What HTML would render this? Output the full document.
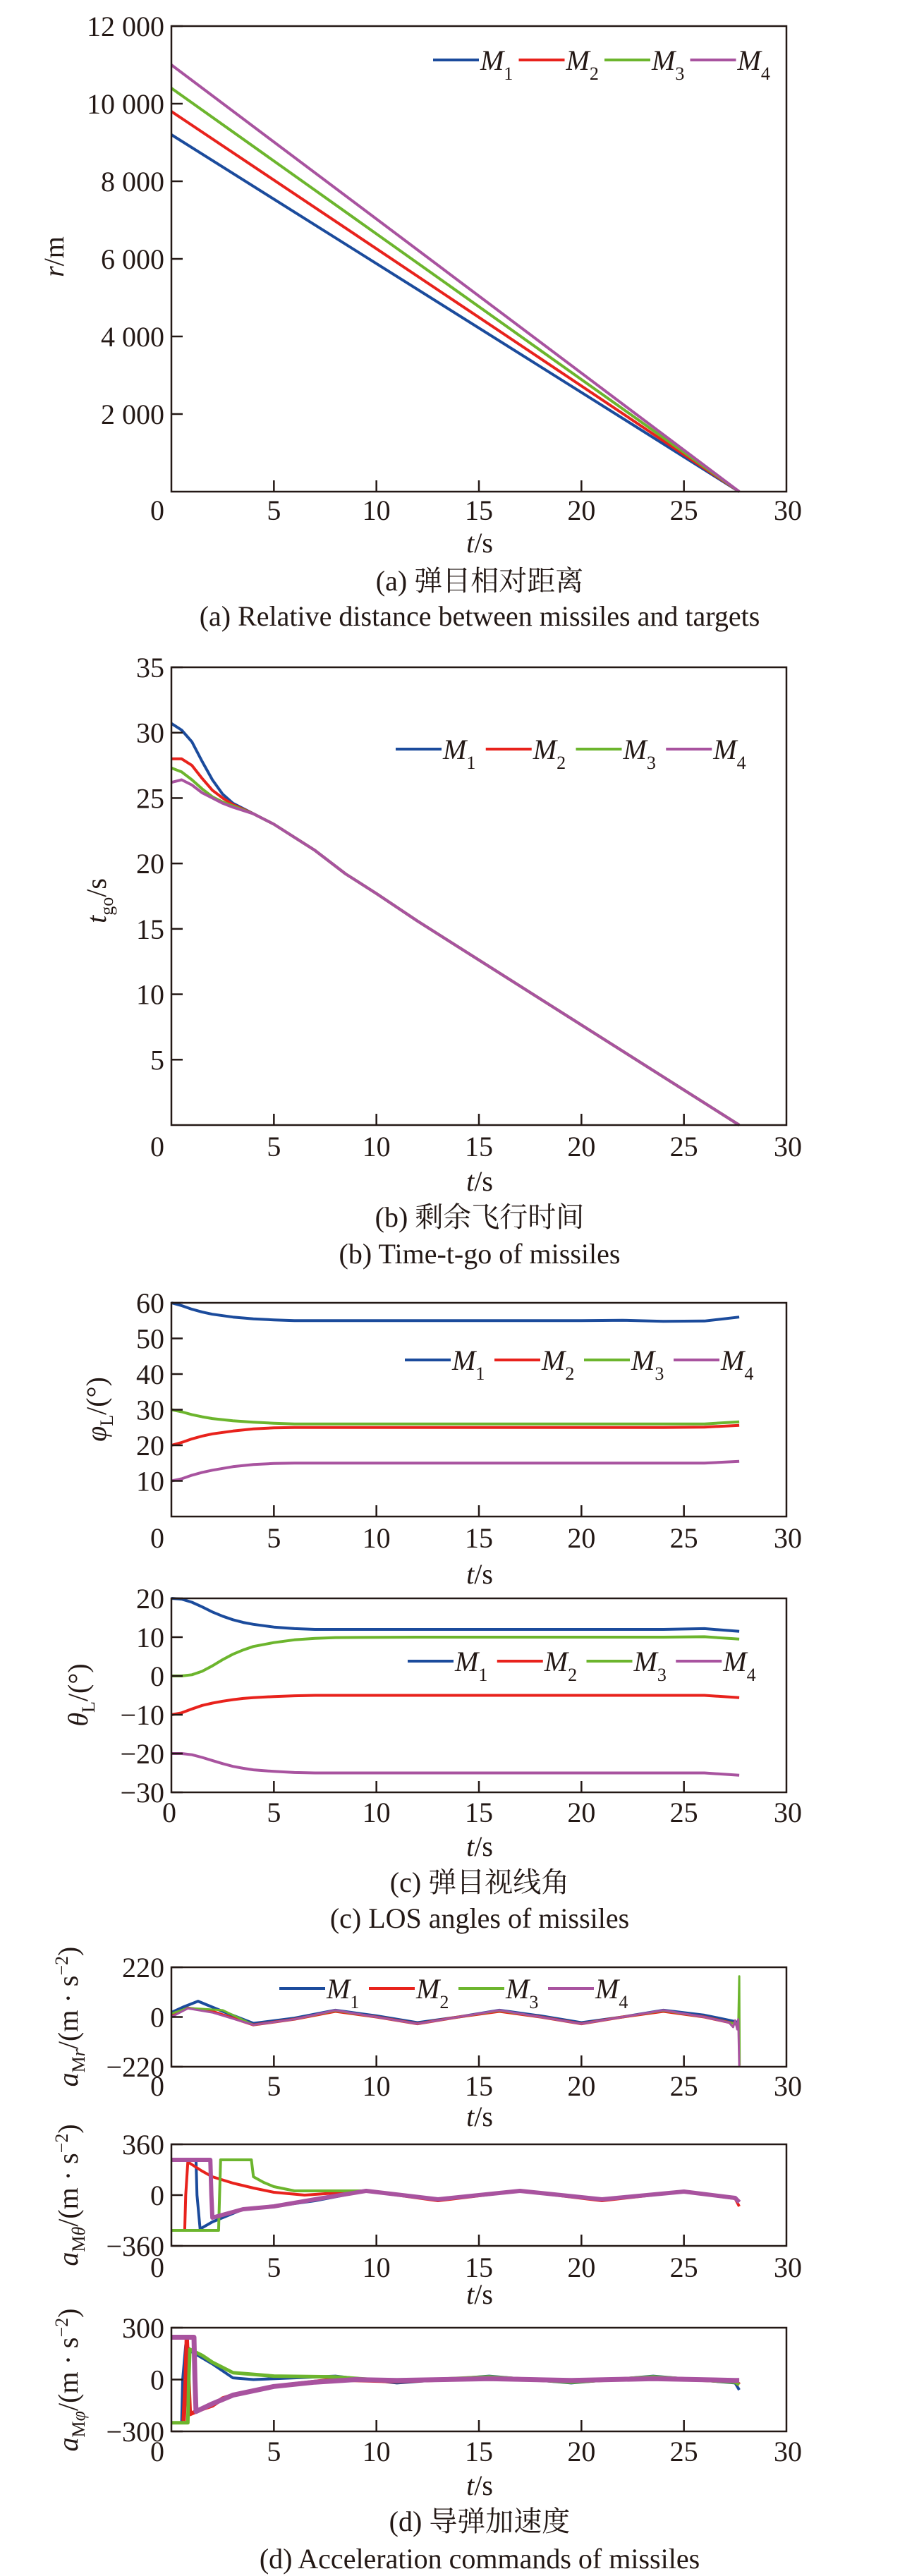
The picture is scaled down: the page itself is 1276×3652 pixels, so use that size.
<!DOCTYPE html>
<html><head><meta charset="utf-8">
<style>
html,body{margin:0;padding:0;background:#fff;}
svg{display:block;font-family:"Liberation Serif","Noto Serif CJK SC",serif;}
.tk{font-size:40px;fill:#231815;}
.cap{font-size:40px;fill:#231815;}
</style></head>
<body>
<svg id="fig" width="1276" height="3652" viewBox="0 0 1276 3652" xmlns="http://www.w3.org/2000/svg">
<g id="charts"></g>
<text class="cap" x="680" y="837" text-anchor="middle">(a) 弹目相对距离</text>
<text class="cap" x="680" y="887" text-anchor="middle">(a) Relative distance between missiles and targets</text>
<text class="cap" x="680" y="1739" text-anchor="middle">(b) 剩余飞行时间</text>
<text class="cap" x="680" y="1791" text-anchor="middle">(b) Time-t-go of missiles</text>
<text class="cap" x="680" y="2682" text-anchor="middle">(c) 弹目视线角</text>
<text class="cap" x="680" y="2733" text-anchor="middle">(c) LOS angles of missiles</text>
<text class="cap" x="680" y="3588" text-anchor="middle">(d) 导弹加速度</text>
<text class="cap" x="680" y="3641" text-anchor="middle">(d) Acceleration commands of missiles</text>
</svg>
<script>
// ---------- data ----------
const xTicks = [0,5,10,15,20,25,30];
const seriesNames = ["M1","M2","M3","M4"];
const colors = ["#1b4b9c","#e8221c","#6cb52d","#a8539f"];

// (a) relative distance
const aT = [0, 27.7];
const aM1 = [9200, 0];
const aM2 = [9800, 0];
const aM3 = [10400, 0];
const aM4 = [11000, 0];
const aYTicks = [2000,4000,6000,8000,10000,12000];
const aYLabels = ["2 000","4 000","6 000","8 000","10 000","12 000"];

// (b) time-to-go
const bT1 = [0,0.5,1,1.5,2,2.5,3,4,4.5,5,6,7,8.5,10,12,27.7];
const bM1 = [30.7,30.2,29.3,27.8,26.4,25.3,24.6,23.8,23.4,23,22,21,19.2,17.7,15.6,0];
const bT2 = [0,0.5,1,1.5,2,2.5,3,4,4.5,5,6,7,8.5,10,12,27.7];
const bM2 = [28,28,27.5,26.5,25.6,25,24.5,23.8,23.4,23,22,21,19.2,17.7,15.6,0];
const bM3 = [27.3,27,26.4,25.7,25.1,24.7,24.4,23.8,23.4,23,22,21,19.2,17.7,15.6,0];
const bM4 = [26.2,26.4,26,25.4,25,24.6,24.3,23.8,23.4,23,22,21,19.2,17.7,15.6,0];
const bYTicks = [5,10,15,20,25,30,35];

// (c1) phi_L
const cT = [0,0.5,1,1.5,2,3,4,5,6,8,12,16,20,22,24,26,27.7];
const cM1 = [60,59.2,58.2,57.4,56.8,56,55.5,55.2,55,55,55,55,55,55.1,54.8,54.9,56];
const cM2 = [20,20.8,21.8,22.6,23.2,24,24.6,24.9,25,25,25,25,25,25,25,25.1,25.6];
const cM3 = [30,29.4,28.6,28,27.5,26.9,26.5,26.2,26,26,26,26,26,26,26,26,26.6];
const cM4 = [10,10.6,11.6,12.4,13,14,14.6,14.9,15,15,15,15,15,15,15,15,15.5];
const cYTicks = [10,20,30,40,50,60];

// (c2) theta_L
const eT = [0,0.5,1,1.5,2,2.5,3,3.5,4,5,6,7,8,12,16,20,24,26,27.7];
const eM1 = [20,19.8,19,17.8,16.5,15.4,14.5,13.8,13.3,12.6,12.2,12,12,12,12,12,12,12.2,11.5];
const eM2 = [-10,-9.5,-8.5,-7.6,-7,-6.5,-6.1,-5.8,-5.6,-5.3,-5.1,-5,-5,-5,-5,-5,-5,-5,-5.6];
const eM3 = [0,0,0.3,1.2,2.6,4.2,5.6,6.7,7.6,8.6,9.3,9.7,9.9,10,10,10,10,10.1,9.5];
const eM4 = [-20,-20,-20.3,-21,-21.8,-22.6,-23.3,-23.8,-24.2,-24.6,-24.9,-25,-25,-25,-25,-25,-25,-25,-25.6];
const eYTicks = [-30,-20,-10,0,10,20];

// (d1) a_Mr
const fT1 = [0,0.6,1.3,2.5,4,6,8,10,12,14,16,18,20,22,24,26,27.5,27.7];
const fM1 = [20,45,70,25,-28,-5,30,5,-25,0,30,5,-25,0,30,8,-20,-25];
const fT2 = [0,0.8,2,4,6,8,10,12,14,16,18,20,22,24,26,27.5,27.7];
const fM2 = [5,40,25,-35,-10,25,0,-30,0,25,0,-30,0,25,0,-30,-40];
const fT3 = [0,0.8,2.5,4,6,8,10,12,14,16,18,20,22,24,26,27.5,27.65,27.7,27.72];
const fM3 = [15,40,30,-35,-10,28,0,-30,0,28,0,-30,0,28,0,-30,-40,180,-215];
const fT4 = [0,0.8,2,4,6,8,10,12,14,16,18,20,22,24,26,27.2,27.4,27.5,27.6,27.65,27.7];
const fM4 = [0,38,20,-35,-10,30,0,-30,0,30,0,-30,0,30,0,-25,-45,-15,-55,-10,-220];
const fYTicks = [-220,0,220];

// (d2) a_Mtheta
const gT1 = [0,1.2,1.25,1.4,2,3,3.5,5,7,9.5,13,17,21,25,27.5,27.7];
const gM1 = [250,250,0,-240,-190,-130,-100,-80,-40,30,-30,30,-30,25,-20,-50];
const gT2 = [0,0.65,0.7,0.8,1.5,2,3,4,5,6.5,8,9.5,13,17,21,25,27.5,27.7];
const gM2 = [-250,-250,0,235,170,130,85,50,20,0,15,30,-40,30,-40,25,-25,-80];
const gT3 = [0,2.3,2.35,2.4,3.9,4,4.5,5,6,9.5,13,17,21,25,27.5,27.7];
const gM3 = [-250,-250,0,250,250,130,90,60,30,30,-30,30,-30,25,-20,-50];
const gT4 = [0,1.9,1.95,2,3,3.5,5,7,9.5,13,17,21,25,27.5,27.7];
const gM4 = [250,250,0,-160,-120,-100,-80,-30,30,-30,30,-30,25,-20,-50];
const gYTicks = [-360,0,360];

// (d3) a_Mphi
const hT1 = [0,0.5,0.55,0.7,1,2,3,4,6,8,11,15.5,19.5,23.5,27.5,27.7];
const hM1 = [-250,-250,0,200,160,90,10,0,10,20,-20,20,-20,20,-20,-60];
const hT2 = [0.6,0.7,0.75,0.9,1.5,2,2.5,3,5,8,11,15.5,19.5,23.5,27.5,27.7];
const hM2 = [-240,0,245,-200,-170,-150,-110,-90,-40,0,-10,10,-10,10,-10,-30];
const hT3 = [0,0.8,0.85,0.9,1.5,2,3,5,8,11,15.5,19.5,23.5,27.5,27.7];
const hM3 = [-250,-250,0,175,140,100,40,20,15,-10,15,-15,15,-15,-30];
const hT4 = [0,1.1,1.15,1.2,2,3,5,7,9,11,15.5,19.5,23.5,27.5,27.7];
const hM4 = [245,245,0,-185,-140,-90,-40,-15,0,-5,5,-5,5,-5,-5];
const hYTicks = [-300,0,300];

// ---------- drawing ----------
const NS = "http://www.w3.org/2000/svg";
const root = document.getElementById("charts");
function mk(tag, attrs, parent){
  const e = document.createElementNS(NS, tag);
  for (const k in attrs) e.setAttribute(k, attrs[k]);
  (parent||root).appendChild(e);
  return e;
}
const X0 = 243, X1 = 1115;
function xs(t){ return X0 + (t/30)*(X1-X0); }

function chart(cfg){
  const g = mk("g", {});
  
  
  const ys = v => cfg.bot - (v-cfg.ymin)/(cfg.ymax-cfg.ymin)*(cfg.bot-cfg.top);
  // series
  cfg.series.forEach((s, i) => {
    const pts = s.t.map((t, j) => xs(t).toFixed(1)+","+ys(s.v[j]).toFixed(1)).join(" ");
    const pl = mk("polyline", {points: pts, fill:"none", stroke: colors[i], "stroke-width": s.w||4, "stroke-linejoin":"round"}, g);
    
    
  });
  // frame
  const fr = mk("rect", {x:X0, y:cfg.top, width:X1-X0, height:cfg.bot-cfg.top, fill:"none", stroke:"#231815", "stroke-width":2.5}, g);
  
  
  // x ticks
  const xa = mk("g", {}, g);
  
  
  xTicks.forEach(t => {
    if (t>0 && t<30) mk("line", {x1:xs(t), x2:xs(t), y1:cfg.bot, y2:cfg.bot-16, stroke:"#231815","stroke-width":2.5}, xa);
    const lx = t===0 ? xs(0)-(cfg.zeroShift||20) : (t===30 ? xs(30)+2 : xs(t));
    const tx = mk("text", {x:lx, y:cfg.xlab+14, "text-anchor":"middle", class:"tk"}, xa);
    tx.textContent = String(t);
    
    
  });
  const xt = mk("text", {x:680, y:cfg.xtitle+14, "text-anchor":"middle", class:"tk"}, xa);
  xt.innerHTML = '<tspan font-style="italic">t</tspan>/s';
  
  
  // y ticks
  const ya = mk("g", {}, g);
  
  
  cfg.yticks.forEach((v, k) => {
    const y = ys(v);
    mk("line", {x1:X0, x2:X0+16, y1:y, y2:y, stroke:"#231815","stroke-width":2.5}, ya);
    const tx = mk("text", {x:X0-10, y:y+14, "text-anchor":"end", class:"tk"}, ya);
    tx.textContent = cfg.ylabels ? cfg.ylabels[k] : String(v).replace("-", "\u2212");
    
    
  });
  const yt = mk("text", {x:0, y:0, "text-anchor":"middle", class:"tk", transform:`translate(${cfg.ytx},${cfg.yty}) rotate(-90)`}, ya);
  yt.innerHTML = cfg.ytitle;
  
  
  // legend
  if (cfg.leg){
    const lg = mk("g", {}, g);
    
    
    const step = (cfg.leg[1]-cfg.leg[0])/4;
    seriesNames.forEach((n, i) => {
      const x = cfg.leg[0] + i*step;
      const e = mk("g", {}, lg);
      
      
      mk("line", {x1:x, x2:x+65, y1:cfg.leg[2], y2:cfg.leg[2], stroke:colors[i], "stroke-width":4}, e);
      const t = mk("text", {x:x+67, y:cfg.leg[2]+14, class:"tk"}, e);
      t.innerHTML = '<tspan font-style="italic">M</tspan><tspan font-size="26" dy="14">'+(i+1)+'</tspan>';
    });
  }
}

const sub = (s) => '<tspan font-size="26" dy="10">'+s+'</tspan><tspan dy="-10">';
chart({name:"chart-relative-distance", top:37, bot:697, ymin:0, ymax:12000, yticks:aYTicks, ylabels:aYLabels,
  xlab:723, xtitle:769, ytx:90, yty:364, ytitle:'<tspan font-style="italic">r</tspan>/m', leg:[614,1100,85],
  series:[{t:aT,v:aM1},{t:aT,v:aM2},{t:aT,v:aM3},{t:aT,v:aM4}]});
chart({name:"chart-time-to-go", top:946, bot:1595, ymin:0, ymax:35, yticks:bYTicks,
  xlab:1625, xtitle:1674, ytx:150, yty:1277, ytitle:'<tspan font-style="italic">t</tspan>'+sub('go')+'/s</tspan>', leg:[561,1072,1062],
  series:[{t:bT1,v:bM1},{t:bT2,v:bM2},{t:bT2,v:bM3},{t:bT2,v:bM4}]});
chart({name:"chart-phi-los", top:1847, bot:2150, ymin:0, ymax:60, yticks:cYTicks,
  xlab:2180, xtitle:2231, ytx:150, yty:1998, ytitle:'<tspan font-style="italic">φ</tspan>'+sub('L')+'/(°)</tspan>', leg:[574,1082,1928],
  series:[{t:cT,v:cM1},{t:cT,v:cM2},{t:cT,v:cM3},{t:cT,v:cM4}]});
chart({name:"chart-theta-los", top:2266, bot:2541, ymin:-30, ymax:20, yticks:eYTicks, zeroShift:3,
  xlab:2569, xtitle:2617, ytx:124, yty:2403, ytitle:'<tspan font-style="italic">θ</tspan>'+sub('L')+'/(°)</tspan>', leg:[578,1085,2355],
  series:[{t:eT,v:eM1},{t:eT,v:eM2},{t:eT,v:eM3},{t:eT,v:eM4}]});
chart({name:"chart-accel-r", top:2789, bot:2930, ymin:-220, ymax:220, yticks:fYTicks, zeroShift:0,
  xlab:2957, xtitle:3000, ytx:110, yty:2859, ytitle:'<tspan font-style="italic">a</tspan>'+sub('M<tspan font-style="italic">r</tspan>')+'/(m · s<tspan font-size="26" dy="-14">−2</tspan><tspan dy="14">)</tspan></tspan>', leg:[396,904,2819],
  series:[{t:fT1,v:fM1},{t:fT2,v:fM2},{t:fT3,v:fM3,w:3},{t:fT4,v:fM4,w:3}]});
chart({name:"chart-accel-theta", top:3040, bot:3184, ymin:-360, ymax:360, yticks:gYTicks, zeroShift:0,
  xlab:3214, xtitle:3252, ytx:110, yty:3112, ytitle:'<tspan font-style="italic">a</tspan>'+sub('M<tspan font-style="italic">θ</tspan>')+'/(m · s<tspan font-size="26" dy="-14">−2</tspan><tspan dy="14">)</tspan></tspan>',
  series:[{t:gT1,v:gM1},{t:gT2,v:gM2},{t:gT3,v:gM3},{t:gT4,v:gM4,w:6}]});
chart({name:"chart-accel-phi", top:3300, bot:3447, ymin:-300, ymax:300, yticks:hYTicks, zeroShift:0,
  xlab:3475, xtitle:3523, ytx:110, yty:3374, ytitle:'<tspan font-style="italic">a</tspan>'+sub('M<tspan font-style="italic">φ</tspan>')+'/(m · s<tspan font-size="26" dy="-14">−2</tspan><tspan dy="14">)</tspan></tspan>',
  series:[{t:hT1,v:hM1},{t:hT2,v:hM2,w:6},{t:hT3,v:hM3,w:5},{t:hT4,v:hM4,w:7}]});
</script>
</body></html>
